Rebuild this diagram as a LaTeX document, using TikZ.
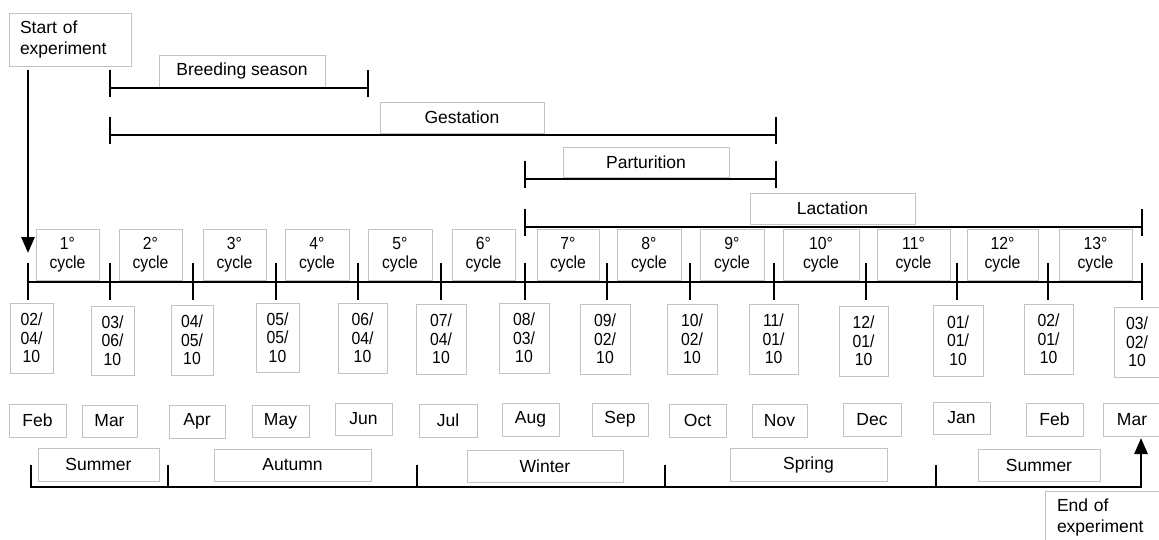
\documentclass[tikz,border=0pt]{standalone}
\usepackage{fontspec}
\setmainfont{Liberation Sans}
\newfontfamily\narrowfont[FakeStretch=0.9]{Liberation Sans}
\usetikzlibrary{arrows.meta}
\definecolor{boxgray}{RGB}{195,195,195}
\begin{document}
\begin{tikzpicture}[x=1pt,y=-1pt,
  box/.style={draw=boxgray,line width=0.8pt,fill=white,inner sep=0pt,align=center},
  corners/.style n args={4}{at={({(#1+#3)/2},{(#2+#4)/2})},
     minimum width={(#3-#1)*1pt},minimum height={(#4-#2)*1pt}},
  lbl/.style={box,font=\fontsize{17.5}{21}\selectfont},
  cyc/.style={box,font=\narrowfont\fontsize{17.5}{18.5}\selectfont},
  bar/.style={line width=2.8pt},
  arr/.style={line width=2.8pt,-{Triangle[width=13pt,length=16pt]}}]
\path[use as bounding box,fill=white] (0,0) rectangle (1159,540);

% start / end boxes
\node[lbl,corners={9}{13}{131}{66},text width=100pt,align=left] (start) {Start of\\experiment};
\node[lbl,corners={1045}{491}{1167}{544},text width=98pt,align=left] (end) {End of\\experiment};

% period labels
\node[lbl,corners={159}{55}{325}{87}] (breed) {Breeding season};
\node[lbl,corners={380}{102}{544}{133}] (gest) {Gestation};
\node[lbl,corners={563}{147}{729}{177}] (part) {Parturition};
\node[lbl,corners={750}{193}{915}{224}] (lact) {Lactation};

% period bars
\coordinate (b1) at (110,88);  \coordinate (b2) at (368,88);
\coordinate (g1) at (110,135); \coordinate (g2) at (776,135);
\coordinate (p1) at (525,179); \coordinate (p2) at (776,179);
\coordinate (l1) at (525,227); \coordinate (l2) at (1142,227);
\foreach \u/\v in {b1/b2,g1/g2,p1/p2,l1/l2}{
  \draw[bar] (\u) -- (\v);
  \draw[bar] ([yshift=18pt]\u) -- ([yshift=-9pt]\u);
  \draw[bar] ([yshift=18pt]\v) -- ([yshift=-9pt]\v);
}

% cycles
\foreach \n/\a/\b in {1/36/99,2/119/182,3/203/266,4/285/349,5/368/432,6/452/515,7/537/599,
  8/617/681,9/700/764,10/783/859,11/877/950,12/967/1038,13/1059/1132}{
  \node[cyc,corners={\a}{229}{\b}{280}] (c\n) {\n°\\cycle};
}

% main axis
\foreach \i/\x in {0/28,1/110,2/193,3/276,4/358,5/441,6/525,7/607,8/690,9/774,10/866,11/957,12/1048,13/1142}{
  \coordinate (t\i) at (\x,282);
}
\draw[bar] (t0) -- (t13);
\foreach \i in {0,...,13}{
  \draw[bar] ([yshift=19pt]t\i) -- ([yshift=-18pt]t\i);
}

% start arrow
\coordinate (stail) at (28,70);
\coordinate (stip) at (28,253);
\draw[arr] (stail) -- (stip);

% dates
\foreach \n/\a/\c/\b/\d/\p/\q/\r in {
  1/10/303/53/373/02/04/10, 2/91/306/134/375/03/06/10, 3/171/305/213/375/04/05/10,
  4/256/303/299/372/05/05/10, 5/338/303/387/373/06/04/10, 6/416/304/466/374/07/04/10,
  7/499/303/549/373/08/03/10, 8/580/304/630/374/09/02/10, 9/667/304/717/374/10/02/10,
  10/749/304/798/374/11/01/10, 11/839/306/888/376/12/01/10, 12/933/305/983/376/01/01/10,
  13/1024/304/1073/374/02/01/10, 14/1114/307/1160/377/03/02/10}{
  \node[cyc,corners={\a}{\c}{\b}{\d}] (d\n) {\p/\\\q/\\\r};
}

% months
\foreach \n/\a/\c/\b/\d/\t in {
  1/9/404/66/437/Feb, 2/82/405/137/437/Mar, 3/169/405/225/438/Apr, 4/252/405/309/437/May,
  5/335/403/392/435/Jun, 6/419/404/477/437/Jul, 7/502/403/559/436/Aug, 8/592/403/648/436/Sep,
  9/669/404/726/437/Oct, 10/752/404/807/437/Nov, 11/843/403/901/436/Dec, 12/933/402/990/434/Jan,
  13/1026/403/1083/436/Feb, 14/1103/403/1161/436/Mar}{
  \node[lbl,corners={\a}{\c}{\b}{\d}] (m\n) {\t};
}

% seasons
\foreach \n/\a/\c/\b/\d/\t in {
  1/38/448/159/481/Summer, 2/214/449/371/481/Autumn, 3/467/450/623/482/Winter,
  4/730/448/887/481/Spring, 5/978/449/1100/481/Summer}{
  \node[lbl,corners={\a}{\c}{\b}{\d}] (s\n) {\t};
}

\coordinate (q0) at (31,487);
\coordinate (q1) at (168,487);
\coordinate (q2) at (417,487);
\coordinate (q3) at (665,487);
\coordinate (q4) at (936,487);
\coordinate (q5) at (1141,487);
\draw[bar] ([yshift=22pt]q0) -- (q0) -- (q5);
\foreach \i in {1,2,3,4}{
  \draw[bar] ([yshift=22pt]q\i) -- (q\i);
}

% end arrow
\coordinate (etip) at (1141,438);
\draw[arr] ([yshift=-1.4pt]q5) -- (etip);
\end{tikzpicture}
\end{document}
